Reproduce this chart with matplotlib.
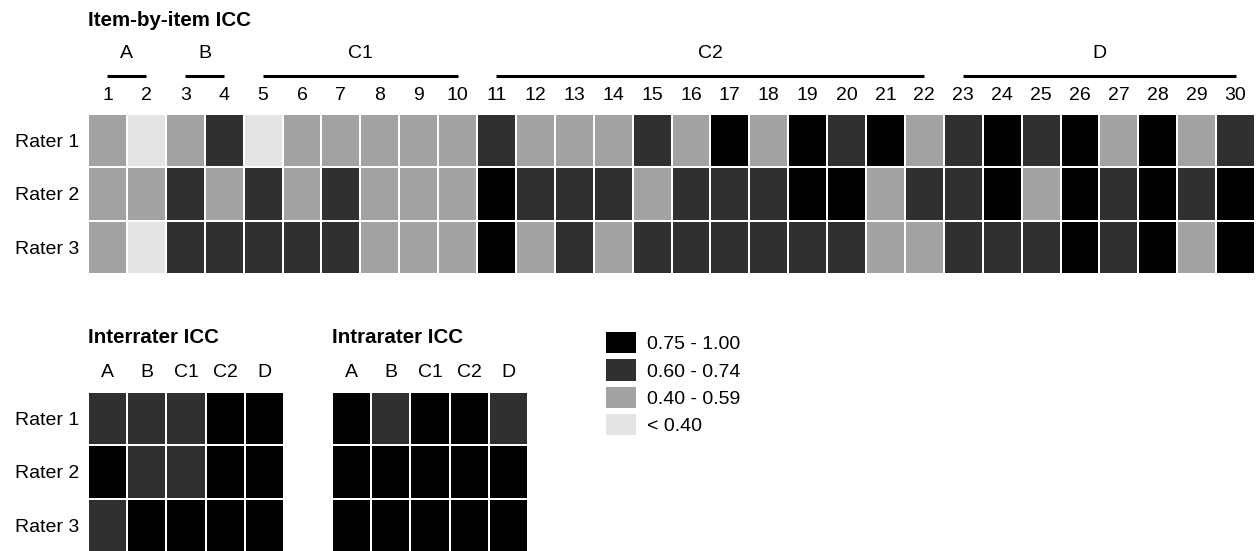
import matplotlib
matplotlib.use("Agg")
import matplotlib.pyplot as plt
import matplotlib.transforms as mtransforms
from matplotlib.colors import ListedColormap, BoundaryNorm
from matplotlib.patches import Patch
import numpy as np

plt.rcParams["font.family"] = ["Liberation Sans", "DejaVu Sans"]

# ICC level per cell: 0 = <0.40, 1 = 0.40-0.59, 2 = 0.60-0.74, 3 = 0.75-1.00
items = list(range(1, 31))
raters = ["Rater 1", "Rater 2", "Rater 3"]
domains = ["A", "B", "C1", "C2", "D"]
domain_first = [1, 3, 5, 11, 23]
domain_last = [2, 4, 10, 22, 30]

item_r1 = [1, 0, 1, 2, 0, 1, 1, 1, 1, 1, 2, 1, 1, 1, 2, 1, 3, 1, 3, 2,
           3, 1, 2, 3, 2, 3, 1, 3, 1, 2]
item_r2 = [1, 1, 2, 1, 2, 1, 2, 1, 1, 1, 3, 2, 2, 2, 1, 2, 2, 2, 3, 3,
           1, 2, 2, 3, 1, 3, 2, 3, 2, 3]
item_r3 = [1, 0, 2, 2, 2, 2, 2, 1, 1, 1, 3, 1, 2, 1, 2, 2, 2, 2, 2, 2,
           1, 1, 2, 2, 2, 3, 2, 3, 1, 3]

inter_r1 = [2, 2, 2, 3, 3]
inter_r2 = [3, 2, 2, 3, 3]
inter_r3 = [2, 3, 3, 3, 3]

intra_r1 = [3, 2, 3, 3, 2]
intra_r2 = [3, 3, 3, 3, 3]
intra_r3 = [3, 3, 3, 3, 3]

level_labels = ["< 0.40", "0.40 - 0.59", "0.60 - 0.74", "0.75 - 1.00"]
level_colors = ["#e4e4e4", "#a3a3a3", "#303030", "#000000"]

cmap = ListedColormap(level_colors)
norm = BoundaryNorm([-0.5, 0.5, 1.5, 2.5, 3.5], cmap.N)

W, H = 1259, 551
FS = 14
TFS = 14.8
fig = plt.figure(figsize=(W / 100, H / 100), dpi=100)
fig.patch.set_facecolor("white")


def px_axes(x0, y0, x1, y1):
    # pixel box (top-left origin) -> figure axes
    return fig.add_axes([x0 / W, 1 - y1 / H, (x1 - x0) / W, (y1 - y0) / H])


def above(ax, px):
    # blended transform: x in data, y = axes fraction shifted up by px pixels
    base = mtransforms.blended_transform_factory(ax.transData, ax.transAxes)
    return base + mtransforms.ScaledTranslation(0, px / 100, fig.dpi_scale_trans)


def heat(ax, data, xlabels, show_rows):
    arr = np.array(data)
    ax.pcolormesh(np.arange(arr.shape[1] + 1), np.arange(arr.shape[0] + 1),
                  arr, cmap=cmap, norm=norm, edgecolors="white", linewidth=1.2)
    ax.set_xlim(0, arr.shape[1])
    ax.set_ylim(arr.shape[0], 0)
    ax.set_xticks([])
    ax.set_yticks(np.arange(arr.shape[0]) + 0.5)
    ax.set_yticklabels(raters if show_rows else [], fontsize=FS)
    ax.tick_params(axis="y", length=0, pad=6)
    for s in ax.spines.values():
        s.set_visible(False)
    for i, lab in enumerate(xlabels):
        ax.text(i + 0.5, 1, lab, transform=above(ax, 19), ha="center",
                va="center", fontsize=FS)


# item-by-item panel
ax1 = px_axes(88, 114, 1255, 274)
heat(ax1, [item_r1, item_r2, item_r3], [str(i) for i in items], True)
for name, a, b in zip(domains, domain_first, domain_last):
    ax1.plot([a - 0.5, b - 0.5], [1, 1], color="black", lw=2.2,
             transform=above(ax1, 38), clip_on=False, solid_capstyle="butt")
    ax1.text((a + b) / 2 - 0.5, 1, name, transform=above(ax1, 61),
             ha="center", va="center", fontsize=FS)
ax1.text(0, 1, "Item-by-item ICC", transform=above(ax1, 94), ha="left",
         va="center", fontsize=TFS, fontweight="bold")

# interrater panel
ax2 = px_axes(88, 392, 284, 552)
heat(ax2, [inter_r1, inter_r2, inter_r3], domains, True)
ax2.text(0, 1, "Interrater ICC", transform=above(ax2, 54), ha="left",
         va="center", fontsize=TFS, fontweight="bold")

# intrarater panel
ax3 = px_axes(332, 392, 528, 552)
heat(ax3, [intra_r1, intra_r2, intra_r3], domains, False)
ax3.text(0, 1, "Intrarater ICC", transform=above(ax3, 54), ha="left",
         va="center", fontsize=TFS, fontweight="bold")

handles = [Patch(facecolor=c, edgecolor="none", label=l)
           for c, l in zip(level_colors[::-1], level_labels[::-1])]
fig.legend(handles=handles, loc="upper left",
           bbox_to_anchor=(606 / W, 1 - 332 / H), frameon=False,
           borderpad=0, borderaxespad=0, fontsize=FS, handlelength=1.55,
           handleheight=1.3, handletextpad=0.55, labelspacing=0.32)

fig.savefig("out.png", dpi=100, facecolor="white")
